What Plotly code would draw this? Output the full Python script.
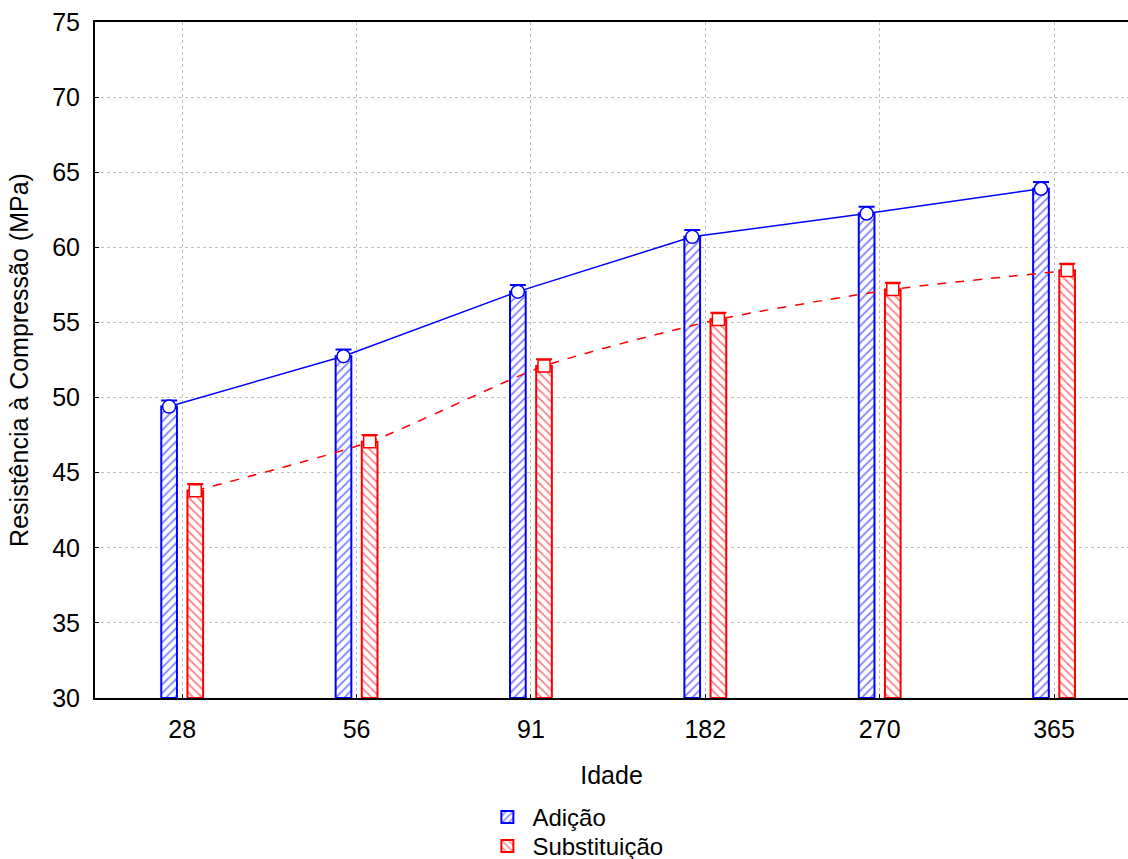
import plotly.graph_objects as go

idades = ["28", "56", "91", "182", "270", "365"]
adicao = [49.4, 52.75, 57.05, 60.7, 62.25, 63.9]
substituicao = [43.8, 47.05, 52.1, 55.2, 57.2, 58.45]
erro_adicao = [0.4, 0.45, 0.45, 0.45, 0.45, 0.45]
erro_substituicao = [0.45, 0.45, 0.45, 0.45, 0.45, 0.45]

pos = list(range(len(idades)))
off = 0.075
xa = [p - off for p in pos]
xs = [p + off for p in pos]

BLUE = "#0000ff"
RED = "#ff0000"
FONT = "Liberation Sans, Arial, sans-serif"
FS = 25

fig = go.Figure()

fig.add_trace(go.Bar(
    x=xa, y=[v - 30 for v in adicao], base=30, width=0.09, name="Adição",
    marker=dict(color="white", line=dict(color=BLUE, width=2),
                pattern=dict(shape="/", fgcolor=BLUE, bgcolor="white", size=6, solidity=0.3)),
    showlegend=True, legend="legend", hoverinfo="skip"))
fig.add_trace(go.Bar(
    x=xs, y=[v - 30 for v in substituicao], base=30, width=0.09, name="Substituição",
    marker=dict(color="white", line=dict(color=RED, width=2),
                pattern=dict(shape="\\", fgcolor=RED, bgcolor="white", size=6, solidity=0.3)),
    showlegend=True, legend="legend2", hoverinfo="skip"))

fig.add_trace(go.Scatter(
    x=xa, y=adicao, mode="lines+markers", showlegend=False,
    line=dict(color=BLUE, width=1.5),
    marker=dict(symbol="circle", size=13, color="white", line=dict(color=BLUE, width=1.5)),
    error_y=dict(type="data", array=erro_adicao, arrayminus=[0] * 6, color=BLUE,
                 thickness=2, width=8)))
fig.add_trace(go.Scatter(
    x=xs, y=substituicao, mode="lines+markers", showlegend=False,
    line=dict(color=RED, width=1.5, dash="dash", shape="spline", smoothing=0.6),
    marker=dict(symbol="square", size=12, color="white", line=dict(color=RED, width=1.5)),
    error_y=dict(type="data", array=erro_substituicao, arrayminus=[0] * 6, color=RED,
                 thickness=2, width=8)))

leg_common = dict(x=0.375, xanchor="left", yanchor="top", font=dict(size=24),
                  itemwidth=40, bgcolor="rgba(0,0,0,0)")

fig.update_layout(
    width=1128, height=859,
    margin=dict(l=95, r=0, t=22, b=161, autoexpand=False),
    paper_bgcolor="white", plot_bgcolor="white",
    font=dict(family=FONT, size=FS, color="black"),
    barmode="overlay",
    legend=dict(y=-0.1435, **leg_common),
    legend2=dict(y=-0.1864, **leg_common),
    xaxis=dict(range=[-0.5, 5.424], tickvals=pos, ticktext=idades,
               showline=True, linecolor="black", linewidth=2, mirror=True,
               ticks="inside", ticklen=4, tickcolor="black", ticklabelstandoff=8,
               showgrid=True, gridcolor="#bfbfbf", griddash="dot", gridwidth=1,
               zeroline=False, tickfont=dict(size=FS),
               title=dict(text="Idade", font=dict(size=FS), standoff=24)),
    yaxis=dict(range=[30, 75], tickvals=[30, 35, 40, 45, 50, 55, 60, 65, 70, 75],
               showline=True, linecolor="black", linewidth=2, mirror=True,
               ticks="inside", ticklen=4, tickcolor="black", ticklabelstandoff=8,
               showgrid=True, gridcolor="#bfbfbf", griddash="dot", gridwidth=1,
               zeroline=False, tickfont=dict(size=FS),
               title=dict(text="Resistência à Compressão (MPa)", font=dict(size=FS), standoff=16)),
)

fig.write_html("out.html")
